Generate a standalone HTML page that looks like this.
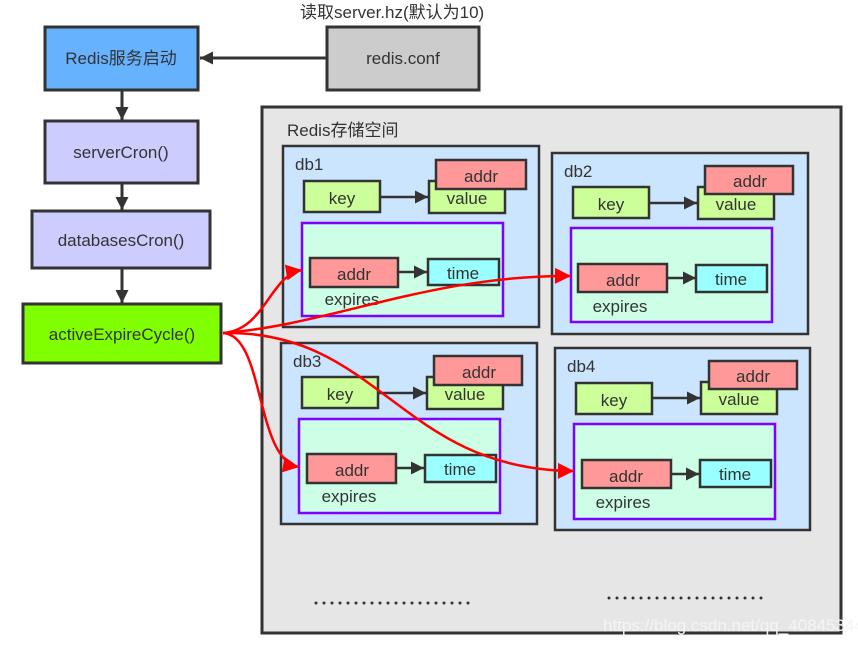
<!DOCTYPE html>
<html><head><meta charset="utf-8"><style>
body{margin:0;background:#fff}
text{font-family:"Liberation Sans","Noto Sans CJK SC",sans-serif;fill:#333;font-size:17px}
</style></head><body>
<svg width="858" height="645" viewBox="0 0 858 645" xmlns="http://www.w3.org/2000/svg">
<defs>
<marker id="ab" viewBox="0 0 10 10" refX="10" refY="5" markerWidth="16" markerHeight="13" markerUnits="userSpaceOnUse" orient="auto"><path d="M0,0L10,5L0,10z" fill="#333"/></marker>
<marker id="ar" viewBox="0 0 10 10" refX="10" refY="5" markerWidth="19" markerHeight="16" markerUnits="userSpaceOnUse" orient="auto"><path d="M0,0L10,5L0,10z" fill="#f00"/></marker>
</defs>
<g stroke="#333" stroke-width="3">
<rect x="45" y="27" width="153" height="63" fill="#66b2ff"/>
<rect x="327" y="27" width="152" height="63" fill="#cccccc"/>
<rect x="45" y="121" width="153" height="62" fill="#ccccff"/>
<rect x="32" y="211" width="178" height="57" fill="#ccccff"/>
<rect x="23" y="304" width="198" height="59" fill="#80ff00"/>
<rect x="262" y="107" width="579" height="526" fill="#e6e6e6"/>
</g>
<text x="300" y="18">读取server.hz(默认为10)</text>
<text x="121" y="64" text-anchor="middle">Redis服务启动</text>
<text x="403" y="64" text-anchor="middle">redis.conf</text>
<text x="121" y="158" text-anchor="middle">serverCron()</text>
<text x="121" y="246" text-anchor="middle">databasesCron()</text>
<text x="122" y="340" text-anchor="middle">activeExpireCycle()</text>
<text x="287" y="136">Redis存储空间</text>
<g stroke="#333" stroke-width="3" fill="none">
<line x1="326" y1="58" x2="200" y2="58" marker-end="url(#ab)"/>
<line x1="122" y1="91" x2="122" y2="120" marker-end="url(#ab)"/>
<line x1="122" y1="184" x2="122" y2="210" marker-end="url(#ab)"/>
<line x1="122" y1="269" x2="122" y2="303" marker-end="url(#ab)"/>
</g>
<g>
<rect x="283" y="146" width="256" height="181" fill="#cce5ff" stroke="#333" stroke-width="2.5"/>
<text x="295" y="170">db1</text>
<rect x="304" y="181" width="76" height="31" fill="#ccff99" stroke="#333" stroke-width="2.5"/>
<text x="342" y="204" text-anchor="middle">key</text>
<line x1="381" y1="197" x2="428" y2="197" stroke="#333" stroke-width="2.5" marker-end="url(#ab)"/>
<rect x="429" y="181" width="76" height="32" fill="#ccff99" stroke="#333" stroke-width="2.5"/>
<text x="467" y="204" text-anchor="middle">value</text>
<rect x="436" y="160" width="90" height="29" fill="#ff9999" stroke="#333" stroke-width="2.5"/>
<text x="481" y="182" text-anchor="middle">addr</text>
<rect x="302" y="223" width="201" height="93" fill="#ccffe6" stroke="#7f00ff" stroke-width="2.5"/>
<rect x="310" y="258" width="88" height="29" fill="#ff9999" stroke="#333" stroke-width="2.5"/>
<text x="354" y="280" text-anchor="middle">addr</text>
<line x1="399" y1="272" x2="427" y2="272" stroke="#333" stroke-width="2.5" marker-end="url(#ab)"/>
<rect x="428" y="259" width="71" height="26" fill="#99ffff" stroke="#333" stroke-width="2.5"/>
<text x="463" y="279" text-anchor="middle">time</text>
<text x="352" y="305" text-anchor="middle">expires</text>
</g>
<g transform="translate(269,6)">
<rect x="283" y="147" width="256" height="181" fill="#cce5ff" stroke="#333" stroke-width="2.5"/>
<text x="295" y="171">db2</text>
<rect x="304" y="181" width="76" height="31" fill="#ccff99" stroke="#333" stroke-width="2.5"/>
<text x="342" y="204" text-anchor="middle">key</text>
<line x1="381" y1="197" x2="428" y2="197" stroke="#333" stroke-width="2.5" marker-end="url(#ab)"/>
<rect x="429" y="181" width="76" height="32" fill="#ccff99" stroke="#333" stroke-width="2.5"/>
<text x="467" y="204" text-anchor="middle">value</text>
<rect x="436" y="160" width="88" height="28" fill="#ff9999" stroke="#333" stroke-width="2.5"/>
<text x="481" y="181" text-anchor="middle">addr</text>
<rect x="302" y="222" width="201" height="94" fill="#ccffe6" stroke="#7f00ff" stroke-width="2.5"/>
<rect x="309" y="258" width="89" height="28" fill="#ff9999" stroke="#333" stroke-width="2.5"/>
<text x="354" y="280" text-anchor="middle">addr</text>
<line x1="399" y1="272" x2="427" y2="272" stroke="#333" stroke-width="2.5" marker-end="url(#ab)"/>
<rect x="427" y="259" width="71" height="27" fill="#99ffff" stroke="#333" stroke-width="2.5"/>
<text x="462" y="279" text-anchor="middle">time</text>
<text x="351" y="306" text-anchor="middle">expires</text>
</g>
<g transform="translate(-2,196)">
<rect x="283" y="147" width="256" height="181" fill="#cce5ff" stroke="#333" stroke-width="2.5"/>
<text x="295" y="171">db3</text>
<rect x="304" y="181" width="76" height="31" fill="#ccff99" stroke="#333" stroke-width="2.5"/>
<text x="342" y="204" text-anchor="middle">key</text>
<line x1="381" y1="197" x2="428" y2="197" stroke="#333" stroke-width="2.5" marker-end="url(#ab)"/>
<rect x="429" y="181" width="76" height="32" fill="#ccff99" stroke="#333" stroke-width="2.5"/>
<text x="467" y="204" text-anchor="middle">value</text>
<rect x="436" y="160" width="88" height="29" fill="#ff9999" stroke="#333" stroke-width="2.5"/>
<text x="481" y="182" text-anchor="middle">addr</text>
<rect x="301" y="223" width="201" height="94" fill="#ccffe6" stroke="#7f00ff" stroke-width="2.5"/>
<rect x="309" y="258" width="89" height="29" fill="#ff9999" stroke="#333" stroke-width="2.5"/>
<text x="354" y="280" text-anchor="middle">addr</text>
<line x1="399" y1="272" x2="426" y2="272" stroke="#333" stroke-width="2.5" marker-end="url(#ab)"/>
<rect x="427" y="259" width="71" height="27" fill="#99ffff" stroke="#333" stroke-width="2.5"/>
<text x="462" y="279" text-anchor="middle">time</text>
<text x="351" y="306" text-anchor="middle">expires</text>
</g>
<g transform="translate(272,201)">
<rect x="283" y="147" width="255" height="182" fill="#cce5ff" stroke="#333" stroke-width="2.5"/>
<text x="295" y="171">db4</text>
<rect x="304" y="182" width="76" height="31" fill="#ccff99" stroke="#333" stroke-width="2.5"/>
<text x="342" y="205" text-anchor="middle">key</text>
<line x1="381" y1="197" x2="428" y2="197" stroke="#333" stroke-width="2.5" marker-end="url(#ab)"/>
<rect x="429" y="181" width="76" height="32" fill="#ccff99" stroke="#333" stroke-width="2.5"/>
<text x="467" y="204" text-anchor="middle">value</text>
<rect x="437" y="160" width="88" height="28" fill="#ff9999" stroke="#333" stroke-width="2.5"/>
<text x="481" y="181" text-anchor="middle">addr</text>
<rect x="302" y="223" width="201" height="95" fill="#ccffe6" stroke="#7f00ff" stroke-width="2.5"/>
<rect x="310" y="259" width="89" height="28" fill="#ff9999" stroke="#333" stroke-width="2.5"/>
<text x="354" y="281" text-anchor="middle">addr</text>
<line x1="400" y1="273" x2="427" y2="273" stroke="#333" stroke-width="2.5" marker-end="url(#ab)"/>
<rect x="428" y="259" width="71" height="27" fill="#99ffff" stroke="#333" stroke-width="2.5"/>
<text x="463" y="279" text-anchor="middle">time</text>
<text x="351" y="307" text-anchor="middle">expires</text>
</g>
<g stroke="#f00" stroke-width="2.5" fill="none">
<path d="M223,333 C265,330 270,275 302,270" marker-end="url(#ar)"/>
<path d="M223,333 C330,325 430,275 571,276" marker-end="url(#ar)"/>
<path d="M223,333 C265,335 255,460 299,467" marker-end="url(#ar)"/>
<path d="M223,333 C380,330 400,470 574,471" marker-end="url(#ar)"/>
</g>
<line x1="316" y1="603" x2="470" y2="603" stroke="#333" stroke-width="3" stroke-linecap="round" stroke-dasharray="0 8"/>
<line x1="609" y1="598" x2="765" y2="598" stroke="#333" stroke-width="3" stroke-linecap="round" stroke-dasharray="0 8"/>
<text x="603" y="631" font-size="16" style="fill:#f4f4f4">https://blog.csdn.net/qq_40845344</text>
</svg>
</body></html>
